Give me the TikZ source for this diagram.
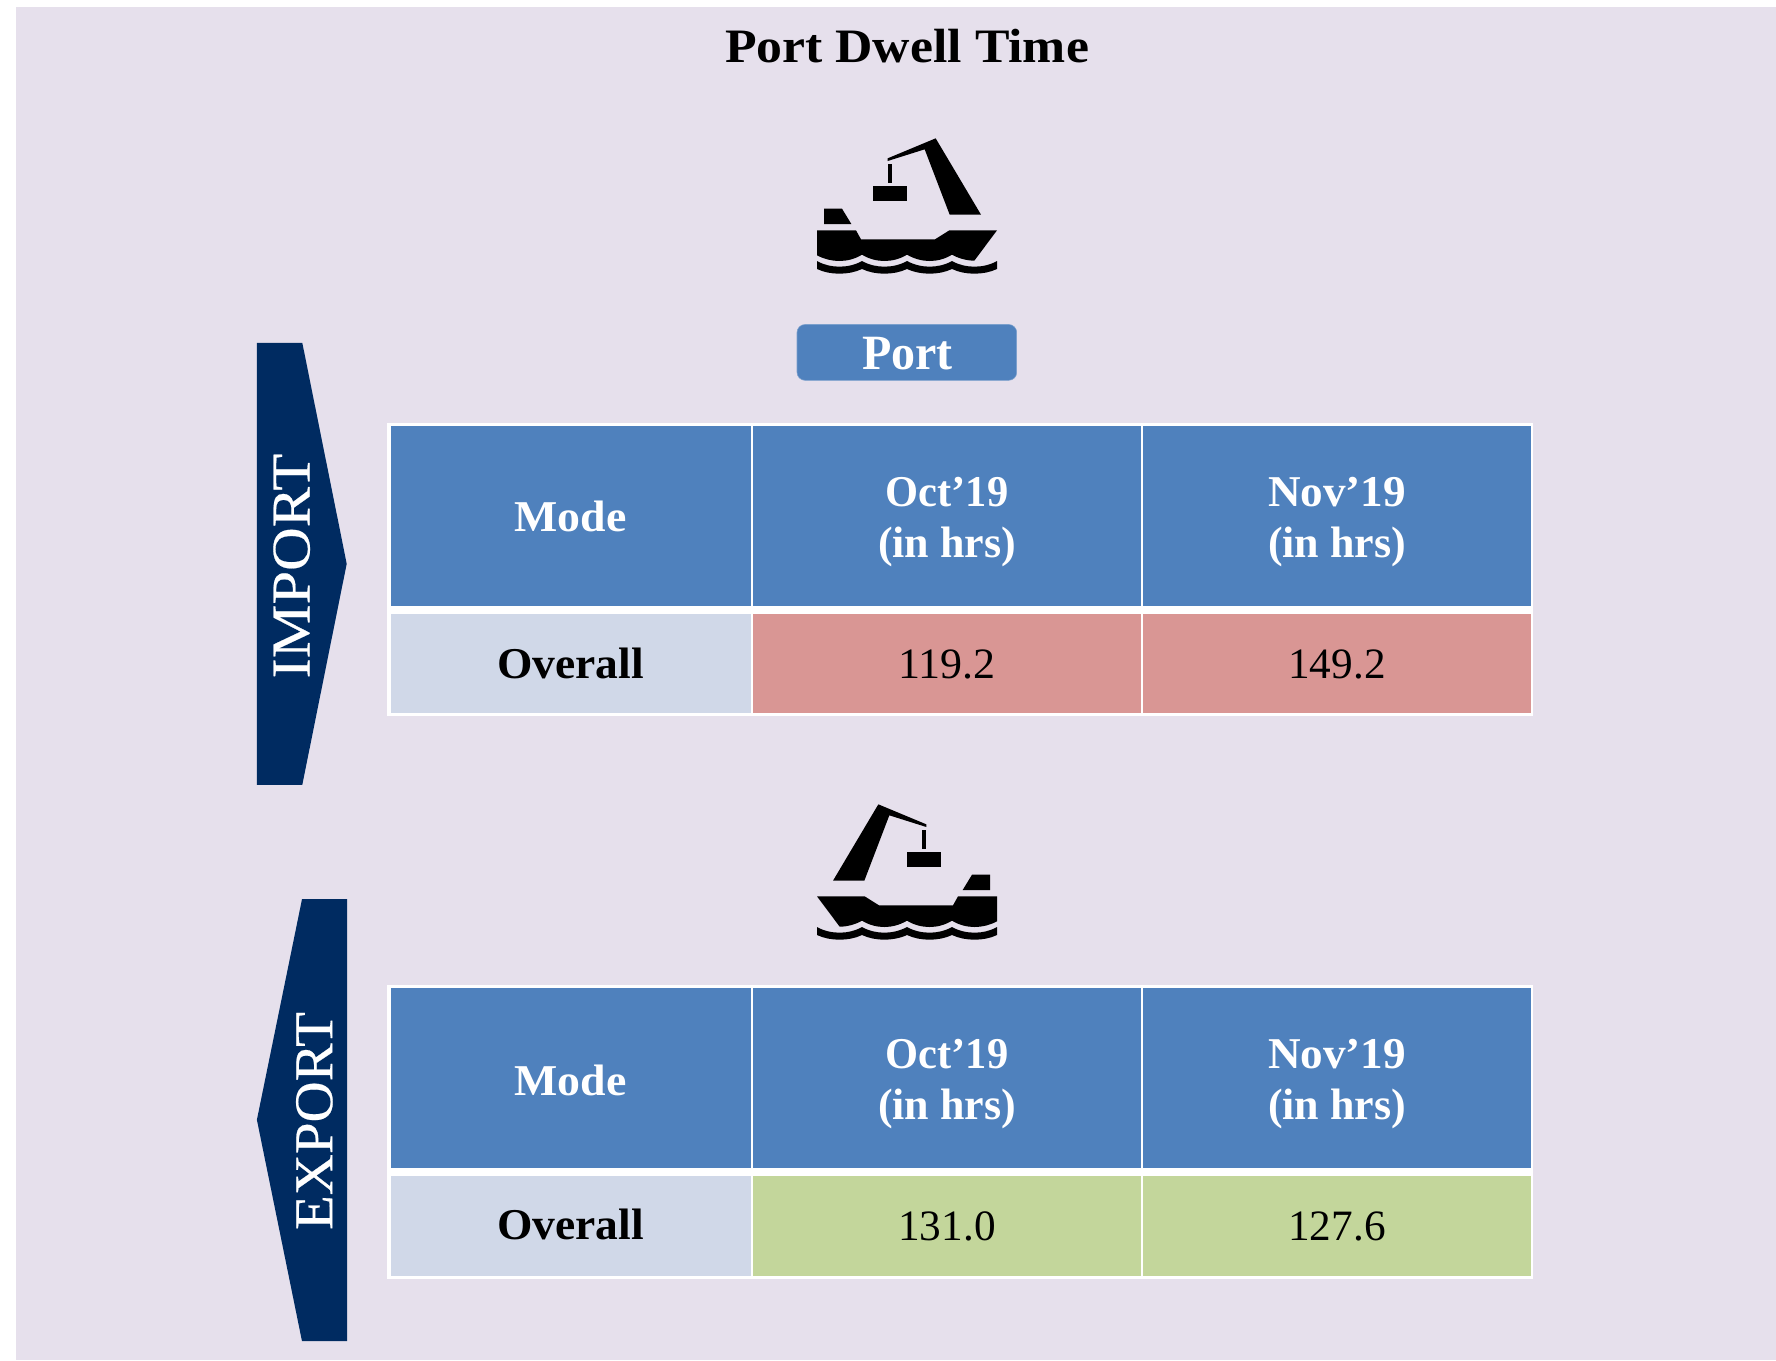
\documentclass[tikz,border=0pt]{standalone}
\usepackage{graphicx}
\usepackage{fontspec}
\setmainfont{Liberation Serif}
\newfontfamily\sidefam[FakeBold=0.35]{Liberation Serif}
\definecolor{bgc}{HTML}{E6E0EC}
\definecolor{bluec}{HTML}{4F81BD}
\definecolor{navyc}{HTML}{002B61}
\definecolor{lightc}{HTML}{D0D8E8}
\definecolor{redc}{HTML}{D99694}
\definecolor{greenc}{HTML}{C3D69B}
\newcommand{\fw}[2]{\resizebox{#1}{\height}{#2}}
\newcommand{\hdr}[4]{\begin{tabular}[t]{@{}c@{}}\fw{#2}{#1}\\\fw{#4}{#3}\end{tabular}}
\newcommand{\shipicon}{%
  \fill (323,145) -- (467,85) -- (603,314) -- (509,314) -- (434,118) -- (323,153) -- cycle;
  \fill (323,162) rectangle (335,218);
  \fill (279,227) rectangle (380,273);
  \fill (132,296) -- (186,296) -- (214,342) -- (132,342) -- cycle;
  \fill (111,361) -- (228,361) -- (243,388) -- (465,388) -- (508,361) -- (651,361) -- (583,452)
    .. controls (560,452) and (535,445) .. (516,434)
    .. controls (495,447) and (471,453) .. (449,453)
    .. controls (427,453) and (403,447) .. (381,434)
    .. controls (360,447) and (336,453) .. (313,453)
    .. controls (291,453) and (267,447) .. (246,434)
    .. controls (225,447) and (201,453) .. (178,453)
    .. controls (155,453) and (132,447) .. (111,436) -- cycle;
  \fill (111,453) .. controls (132,465) and (155,470) .. (178,470)
    .. controls (201,470) and (225,465) .. (246,453)
    .. controls (267,465) and (291,470) .. (313,470)
    .. controls (336,470) and (360,465) .. (381,453)
    .. controls (403,465) and (427,470) .. (449,470)
    .. controls (471,470) and (495,465) .. (516,453)
    .. controls (537,465) and (560,470) .. (583,470)
    .. controls (606,470) and (630,465) .. (651,453)
    -- (651,477)
    .. controls (630,487) and (606,491) .. (583,491)
    .. controls (560,491) and (537,487) .. (516,477)
    .. controls (495,487) and (471,491) .. (449,491)
    .. controls (427,491) and (403,487) .. (381,477)
    .. controls (360,487) and (336,491) .. (313,491)
    .. controls (291,491) and (267,487) .. (246,477)
    .. controls (225,487) and (201,491) .. (178,491)
    .. controls (155,491) and (132,487) .. (111,477) -- cycle;
}
\tikzset{
  lbl/.style={inner sep=0pt,outer sep=0pt,anchor=base},
  hfont/.style={lbl,text=white,font=\fontsize{33pt}{37.95pt}\selectfont\bfseries},
  rowfont/.style={lbl,text=black,font=\fontsize{33pt}{37.95pt}\selectfont\bfseries},
  numfont/.style={lbl,text=black,font=\fontsize{32.5pt}{38pt}\selectfont},
  sidefont/.style={lbl,text=white,rotate=90,font=\sidefam\fontsize{41pt}{46pt}\selectfont},
  frame/.style={fill=white,draw=none},
}
\begin{document}
\begin{tikzpicture}[x=0.75pt,y=-0.75pt]
\useasboundingbox (0,0) rectangle (1776,1360);
\fill[white] (0,0) rectangle (1776,1360);
\fill[bgc] (16,7) rectangle (1776,1360);

\node[lbl,font=\fontsize{36pt}{40pt}\selectfont\bfseries] (title) at (907,62.2) {\fw{273pt}{Port Dwell Time}};

% ship icons
\begin{scope}[shift={(585pt,-82.5pt)},x=0.25pt,y=-0.25pt]
\shipicon
\end{scope}
\begin{scope}[shift={(775.5pt,-582pt)},x=-0.25pt,y=-0.25pt]
\shipicon
\end{scope}

% port label
\draw[draw=bluec!75!white,fill=bluec,rounded corners=6pt,line width=0.4pt] (797,324.5) rectangle (1016.7,380.3);
\node[hfont,font=\fontsize{37pt}{42pt}\selectfont\bfseries] (port) at (907.5,369.3) {\fw{68pt}{Port}};

% side arrows
\fill[navyc] (256.9,342.8) -- (302.3,342.8) -- (346.7,563.8) -- (302.3,784.8) -- (256.9,784.8) -- cycle;
\node[sidefont] (import) at (309.5,566) {\fw{168.5pt}{IMPORT}};
\fill[navyc] (256.9,1119.8) -- (302,899.2) -- (347.1,899.2) -- (347.1,1341.2) -- (302,1341.2) -- cycle;
\node[sidefont] (export) at (332.2,1121) {\fw{163.5pt}{EXPORT}};

% table 1
\fill[frame] (386.8,422.6) rectangle (1533.3,716.3);
\fill[bluec] (390.5,426) rectangle (750.7,605.7);
\fill[bluec] (753.4,426) rectangle (1140.7,605.7);
\fill[bluec] (1143.3,426) rectangle (1530.7,605.7);
\fill[lightc] (390.5,613.7) rectangle (750.7,713.3);
\fill[redc] (753.4,613.7) rectangle (1140.7,713.3);
\fill[redc] (1143.3,613.7) rectangle (1530.7,713.3);
\node[hfont] (modeA) at (570.5,531.7) {\fw{84pt}{Mode}};
\node[hfont] (octA) at (947,506.7) {\hdr{Oct’19}{92pt}{(in hrs)}{103.5pt}};
\node[hfont] (novA) at (1337,506.7) {\hdr{Nov’19}{103.5pt}{(in hrs)}{103.5pt}};
\node[rowfont] (overallA) at (570.5,678.2) {\fw{110pt}{Overall}};
\node[numfont] (valA1) at (947,678.2) {\fw{73pt}{119.2}};
\node[numfont] (valA2) at (1337,678.2) {\fw{73pt}{149.2}};

% table 2
\fill[frame] (386.8,984.9) rectangle (1533.3,1278.6);
\fill[bluec] (390.5,988.4) rectangle (750.7,1168);
\fill[bluec] (753.4,988.4) rectangle (1140.7,1168);
\fill[bluec] (1143.3,988.4) rectangle (1530.7,1168);
\fill[lightc] (390.5,1176) rectangle (750.7,1275.9);
\fill[greenc] (753.4,1176) rectangle (1140.7,1275.9);
\fill[greenc] (1143.3,1176) rectangle (1530.7,1275.9);
\node[hfont] (modeB) at (570.5,1095) {\fw{84pt}{Mode}};
\node[hfont] (octB) at (947,1068.7) {\hdr{Oct’19}{92pt}{(in hrs)}{103.5pt}};
\node[hfont] (novB) at (1337,1068.7) {\hdr{Nov’19}{103.5pt}{(in hrs)}{103.5pt}};
\node[rowfont] (overallB) at (570.5,1239.8) {\fw{110pt}{Overall}};
\node[numfont] (valB1) at (947,1240) {\fw{73pt}{131.0}};
\node[numfont] (valB2) at (1337,1240) {\fw{73pt}{127.6}};
\end{tikzpicture}
\end{document}
